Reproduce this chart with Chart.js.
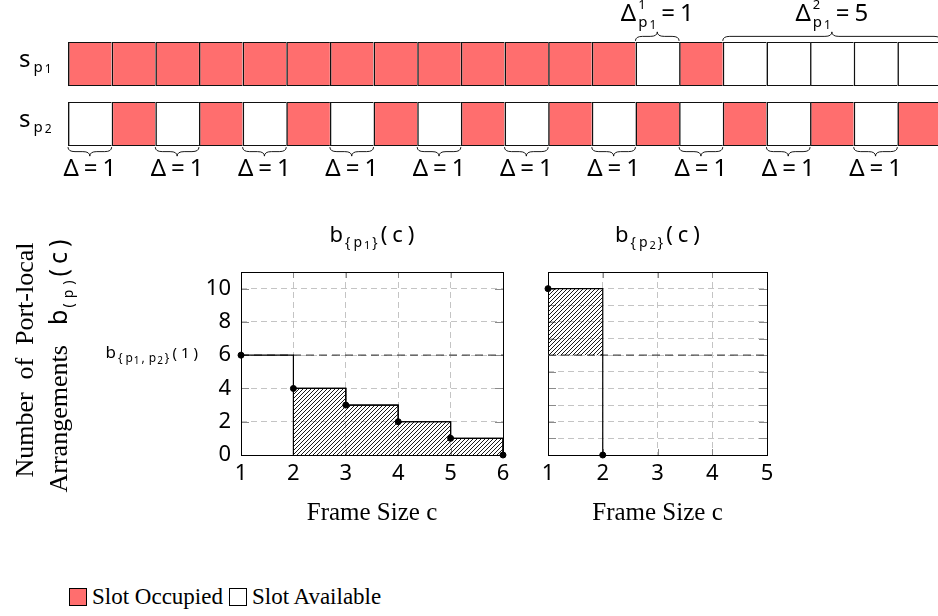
<!DOCTYPE html>
<html>
<head>
<meta charset="utf-8">
<script src="https://cdn.jsdelivr.net/npm/chart.js@4.4.1/dist/chart.umd.min.js"></script>
<style>
  body { margin: 0; background: #fff; width: 938px; height: 616px; overflow: hidden; position: relative; }
  canvas { position: absolute; }
  #legend { position: absolute; left: 69px; top: 584px; font: 23px "Liberation Serif", serif; color: #000;
            display: flex; align-items: center; white-space: nowrap; }
  #legend i { display: inline-block; width: 18px; height: 18px; border: 1px solid #000; box-sizing: border-box; margin-right: 5px; }
</style>
</head>
<body>
<canvas id="slots" width="945" height="190" style="left:0;top:0"></canvas>
<canvas id="left" width="530" height="340" style="left:0;top:200px"></canvas>
<canvas id="right" width="280" height="340" style="left:520px;top:200px"></canvas>
<div id="legend"><i style="background:#ff6e6e"></i>Slot Occupied<i style="margin-left:6px"></i>Slot Available</div>
<script>
var SERIF = '"Liberation Serif", serif';
var MATH = '"Noto Sans", sans-serif';
var RED = '#ff6e6e';

// slot occupancy of the two ports (1 = occupied)
var rows = ['p1', 'p2'];
var occupiedP1 = [1, 1, 1, 1, 1, 1, 1, 1, 1, 1, 1, 1, 1, 0, 1, 0, 0, 0, 0, 0];
var occupiedP2 = [0, 1, 0, 1, 0, 1, 0, 1, 0, 1, 0, 1, 0, 1, 0, 1, 0, 1, 0, 1];

// port-local arrangements b(c)
var frameSizeP1 = [1, 2, 3, 4, 5, 6];
var arrangementsP1 = [6, 4, 3, 2, 1, 0];
var frameSizeP2 = [1, 2];
var arrangementsP2 = [10, 0];
var combinedAtOne = 6;            // b_{p1,p2}(1)
var yTickLabels = [0, 2, 4, 6, 8, 10];
var yMax = 11;

function freeRuns(occ) {
  var runs = [], start = null;
  occ.forEach(function (o, i) {
    if (!o && start === null) start = i;
    if (o && start !== null) { runs.push([start, i - 1]); start = null; }
  });
  if (start !== null) runs.push([start, occ.length - 1]);
  return runs;
}

// small rich-text helper: parts {t, s: size, dy, f: family, g: gap before, ls: letter spacing, z: no advance}
function runWidth(ctx, parts) {
  var w = 0;
  parts.forEach(function (p) {
    ctx.font = p.s + 'px ' + (p.f || MATH);
    var cw = 0;
    Array.from(p.t).forEach(function (ch, k) { cw += ctx.measureText(ch).width + (k ? (p.ls || 0) : 0); });
    if (!p.z) w += (p.g || 0) + cw;
  });
  return w;
}
function drawRun(ctx, parts, x, y) {
  var cx = x;
  ctx.textAlign = 'left';
  ctx.textBaseline = 'alphabetic';
  parts.forEach(function (p) {
    ctx.font = p.s + 'px ' + (p.f || MATH);
    var px = cx + (p.g || 0);
    Array.from(p.t).forEach(function (ch, k) {
      if (k) px += p.ls || 0;
      ctx.fillText(ch, px, y + (p.dy || 0));
      px += ctx.measureText(ch).width;
    });
    if (!p.z) cx = px;
  });
}

function brace(ctx, x1, x2, y, d, h) {
  var xm = (x1 + x2) / 2, q = h / 2, r = Math.min(7, (x2 - x1) / 5);
  ctx.beginPath();
  ctx.moveTo(x1, y);
  ctx.quadraticCurveTo(x1, y + d * q, x1 + r, y + d * q);
  ctx.lineTo(xm - r, y + d * q);
  ctx.quadraticCurveTo(xm, y + d * q, xm, y + d * h);
  ctx.quadraticCurveTo(xm, y + d * q, xm + r, y + d * q);
  ctx.lineTo(x2 - r, y + d * q);
  ctx.quadraticCurveTo(x2, y + d * q, x2, y);
  ctx.stroke();
}

// ---------- slot rows ----------
var slotDecor = {
  id: 'slotDecor',
  afterDatasetsDraw: function (chart) {
    var ctx = chart.ctx, xs = chart.scales.x;
    var b1 = chart.getDatasetMeta(0).data[0], b2 = chart.getDatasetMeta(1).data[0];
    var top1 = b1.y - b1.height / 2, bottom2 = b2.y + b2.height / 2;
    ctx.save();
    ctx.fillStyle = '#000';
    ctx.strokeStyle = '#000';
    ctx.lineWidth = 0.9;
    [b1, b2].forEach(function (b, r) {
      drawRun(ctx, [{ t: 's', s: 24 }, { t: 'p', s: 15, dy: 5, g: 3 }, { t: String(r + 1), s: 12, dy: 6, g: 2 }], 19, b.y + 3);
    });
    freeRuns(occupiedP1).forEach(function (run, k) {
      var x1 = xs.getPixelForValue(run[0]), x2 = xs.getPixelForValue(run[1] + 1);
      brace(ctx, x1, x2, top1 - 1, -1, 9);
      var parts = [{ t: 'Δ', s: 24 }, { t: String(k + 1), s: 13, dy: -12, g: 2, z: true },
                   { t: 'p', s: 15, dy: 6, g: 2 }, { t: '1', s: 12, dy: 8, g: 2 },
                   { t: '=', s: 24, g: 5 }, { t: String(run[1] - run[0] + 1), s: 24, g: 5 }];
      drawRun(ctx, parts, (x1 + x2) / 2 - runWidth(ctx, parts) / 2, top1 - 21);
    });
    freeRuns(occupiedP2).forEach(function (run) {
      var x1 = xs.getPixelForValue(run[0]), x2 = xs.getPixelForValue(run[1] + 1);
      brace(ctx, x1, x2, bottom2 + 1, 1, 9);
      var parts = [{ t: 'Δ', s: 24 }, { t: '=', s: 24, g: 5 }, { t: String(run[1] - run[0] + 1), s: 24, g: 5 }];
      drawRun(ctx, parts, (x1 + x2) / 2 - runWidth(ctx, parts) / 2, bottom2 + 30);
    });
    ctx.restore();
  }
};

function slotRow(label, occ) {
  return {
    label: label,
    data: occ.map(function (o, i) { return { y: label, x: [i, i + 1] }; }),
    backgroundColor: occ.map(function (o) { return o ? RED : '#fff'; }),
    borderColor: '#111',
    borderWidth: { top: 1.2, bottom: 1.2, left: 1.6, right: 0 },
    borderSkipped: false,
    grouped: false,
    categoryPercentage: 1,
    barPercentage: 0.737
  };
}

new Chart(document.getElementById('slots'), {
  type: 'bar',
  data: { labels: rows, datasets: [slotRow('p1', occupiedP1), slotRow('p2', occupiedP2)] },
  options: {
    indexAxis: 'y',
    responsive: false,
    animation: false,
    layout: { padding: { left: 68, right: 4, top: 34, bottom: 36 } },
    plugins: { legend: { display: false }, tooltip: { enabled: false } },
    scales: {
      x: { type: 'linear', min: 0, max: occupiedP1.length, display: false },
      y: { type: 'category', display: false }
    }
  },
  plugins: [slotDecor]
});

// ---------- step charts ----------
function hatchPattern() {
  var tile = document.createElement('canvas');
  tile.width = tile.height = 4;
  var g = tile.getContext('2d');
  g.strokeStyle = '#000';
  g.lineWidth = 0.9;
  g.beginPath();
  g.moveTo(0, 4); g.lineTo(4, 0);
  g.moveTo(-1, 1); g.lineTo(1, -1);
  g.moveTo(3, 5); g.lineTo(5, 3);
  g.stroke();
  return g.createPattern(tile, 'repeat');
}
var HATCH = hatchPattern();

function pts(xs, ys) {
  return xs.map(function (x, i) { return { x: x, y: ys[i] }; });
}

var frame = {
  id: 'frame',
  beforeDatasetsDraw: function (chart) {
    var a = chart.chartArea, ctx = chart.ctx, xs = chart.scales.x, ys = chart.scales.y;
    ctx.save();
    ctx.strokeStyle = '#8a8a8a';
    ctx.lineWidth = 1;
    ctx.beginPath();
    xs.ticks.forEach(function (t) {
      var px = Math.round(xs.getPixelForValue(t.value)) + 0.5;
      ctx.moveTo(px, a.bottom); ctx.lineTo(px, a.bottom - 6);
      ctx.moveTo(px, a.top); ctx.lineTo(px, a.top + 6);
    });
    ys.ticks.forEach(function (t) {
      var py = Math.round(ys.getPixelForValue(t.value)) + 0.5;
      ctx.moveTo(a.left, py); ctx.lineTo(a.left + 8, py);
      ctx.moveTo(a.right, py); ctx.lineTo(a.right - 8, py);
    });
    ctx.stroke();
    ctx.strokeStyle = '#000';
    ctx.strokeRect(Math.round(a.left) + 0.5, Math.round(a.top) + 0.5, Math.round(a.right - a.left), Math.round(a.bottom - a.top));
    ctx.restore();
  }
};

function titlePlugin(sub) {
  return {
    id: 'plotTitle',
    afterDraw: function (chart) {
      var ctx = chart.ctx, a = chart.chartArea;
      var parts = [{ t: 'b', s: 22 }, { t: '{p', s: 14, dy: 5, g: 2, ls: 3 }, { t: sub, s: 11, dy: 7, g: 2 },
                   { t: '}', s: 14, dy: 5, g: 2 }, { t: '(c)', s: 22, g: 3, ls: 5 }];
      ctx.save();
      ctx.fillStyle = '#000';
      drawRun(ctx, parts, (a.left + a.right) / 2 - runWidth(ctx, parts) / 2, 42);
      ctx.restore();
    }
  };
}

function justified(ctx, words, baseX, centerY, width) {
  var ws = words.map(function (w) { return runWidth(ctx, w); });
  var total = ws.reduce(function (s, v) { return s + v; }, 0);
  var gap = (width - total) / (words.length - 1);
  ctx.save();
  ctx.translate(baseX, centerY);
  ctx.rotate(-Math.PI / 2);
  var x = -width / 2;
  words.forEach(function (w, i) { drawRun(ctx, w, x, 0); x += ws[i] + gap; });
  ctx.restore();
}

var leftText = {
  id: 'leftText',
  afterDraw: function (chart) {
    var ctx = chart.ctx, ys = chart.scales.y;
    ctx.save();
    ctx.fillStyle = '#000';
    justified(ctx, [[{ t: 'Number', s: 26, f: SERIF }], [{ t: 'of', s: 26, f: SERIF }], [{ t: 'Port-local', s: 26, f: SERIF }]], 33, 160, 235);
    justified(ctx, [[{ t: 'Arrangements', s: 26, f: SERIF }],
                    [{ t: 'b', s: 25 }, { t: '(p)', s: 14, dy: 6, g: 2, ls: 5 }, { t: '(c)', s: 25, g: 4, ls: 5 }]], 67, 166, 253);
    var parts = [{ t: 'b', s: 17 }, { t: '{p', s: 12, dy: 4, g: 2, ls: 3 }, { t: '1', s: 10, dy: 6, g: 1 },
                 { t: ',p', s: 12, dy: 4, g: 2, ls: 4 }, { t: '2', s: 10, dy: 6, g: 1 }, { t: '}', s: 12, dy: 4, g: 2 },
                 { t: '(1)', s: 15, g: 3, ls: 4 }];
    drawRun(ctx, parts, 198 - runWidth(ctx, parts), ys.getPixelForValue(combinedAtOne) + 3);
    ctx.restore();
  }
};

function scalesFor(xMax, yWidth, showY) {
  return {
    x: {
      type: 'linear', min: 1, max: xMax,
      ticks: { stepSize: 1, color: '#000', font: { family: MATH, size: 22 }, padding: 6 },
      grid: { color: '#c4c4c4', drawTicks: false },
      border: { display: false, dash: [6, 4] },
      title: { display: true, text: 'Frame Size c', color: '#000', font: { family: SERIF, size: 25 }, padding: 0 },
      afterFit: function (s) { s.height = 73; }
    },
    y: {
      type: 'linear', min: 0, max: yMax,
      ticks: {
        stepSize: 1, display: showY, color: '#000', font: { family: MATH, size: 22 }, padding: 10,
        callback: function (v) { return yTickLabels.indexOf(v) >= 0 ? String(v) : ''; }
      },
      grid: { color: '#c4c4c4', drawTicks: false },
      border: { display: false, dash: [6, 4] },
      afterFit: function (s) { s.width = yWidth; }
    }
  };
}

var stepStyle = {
  stepped: 'before', borderColor: '#000', borderWidth: 1.2, fill: false, clip: false,
  pointRadius: 3, pointBackgroundColor: '#000', pointBorderColor: '#000', pointBorderWidth: 1
};
function combinedLine(xMax) {
  return { data: [{ x: 1, y: combinedAtOne }, { x: xMax, y: combinedAtOne }], borderColor: '#4a4a4a',
           borderDash: [8, 5], borderWidth: 1.3, pointRadius: 0, fill: false };
}

var p1 = pts(frameSizeP1, arrangementsP1);
new Chart(document.getElementById('left'), {
  type: 'line',
  data: {
    datasets: [
      Object.assign({ data: p1 }, stepStyle),
      { data: [{ x: frameSizeP1[1], y: 0 }].concat(p1.slice(1)), stepped: 'before', borderColor: '#000',
        borderWidth: 1.2, pointRadius: 0, fill: 'origin', backgroundColor: HATCH },
      combinedLine(6)
    ]
  },
  options: {
    responsive: false,
    animation: false,
    layout: { padding: { left: 0, right: 27, top: 72, bottom: 12 } },
    plugins: { legend: { display: false }, tooltip: { enabled: false } },
    scales: scalesFor(6, 241, true)
  },
  plugins: [frame, titlePlugin('1'), leftText]
});

var p2 = pts(frameSizeP2, arrangementsP2);
new Chart(document.getElementById('right'), {
  type: 'line',
  data: {
    datasets: [
      Object.assign({ data: p2 }, stepStyle),
      { data: [p2[0], { x: frameSizeP2[1], y: arrangementsP2[0] }], borderWidth: 0, pointRadius: 0,
        fill: { value: combinedAtOne }, backgroundColor: HATCH },
      combinedLine(5)
    ]
  },
  options: {
    responsive: false,
    animation: false,
    layout: { padding: { left: 0, right: 33, top: 72, bottom: 12 } },
    plugins: { legend: { display: false }, tooltip: { enabled: false } },
    scales: scalesFor(5, 28, false)
  },
  plugins: [frame, titlePlugin('2')]
});
</script>
</body>
</html>
